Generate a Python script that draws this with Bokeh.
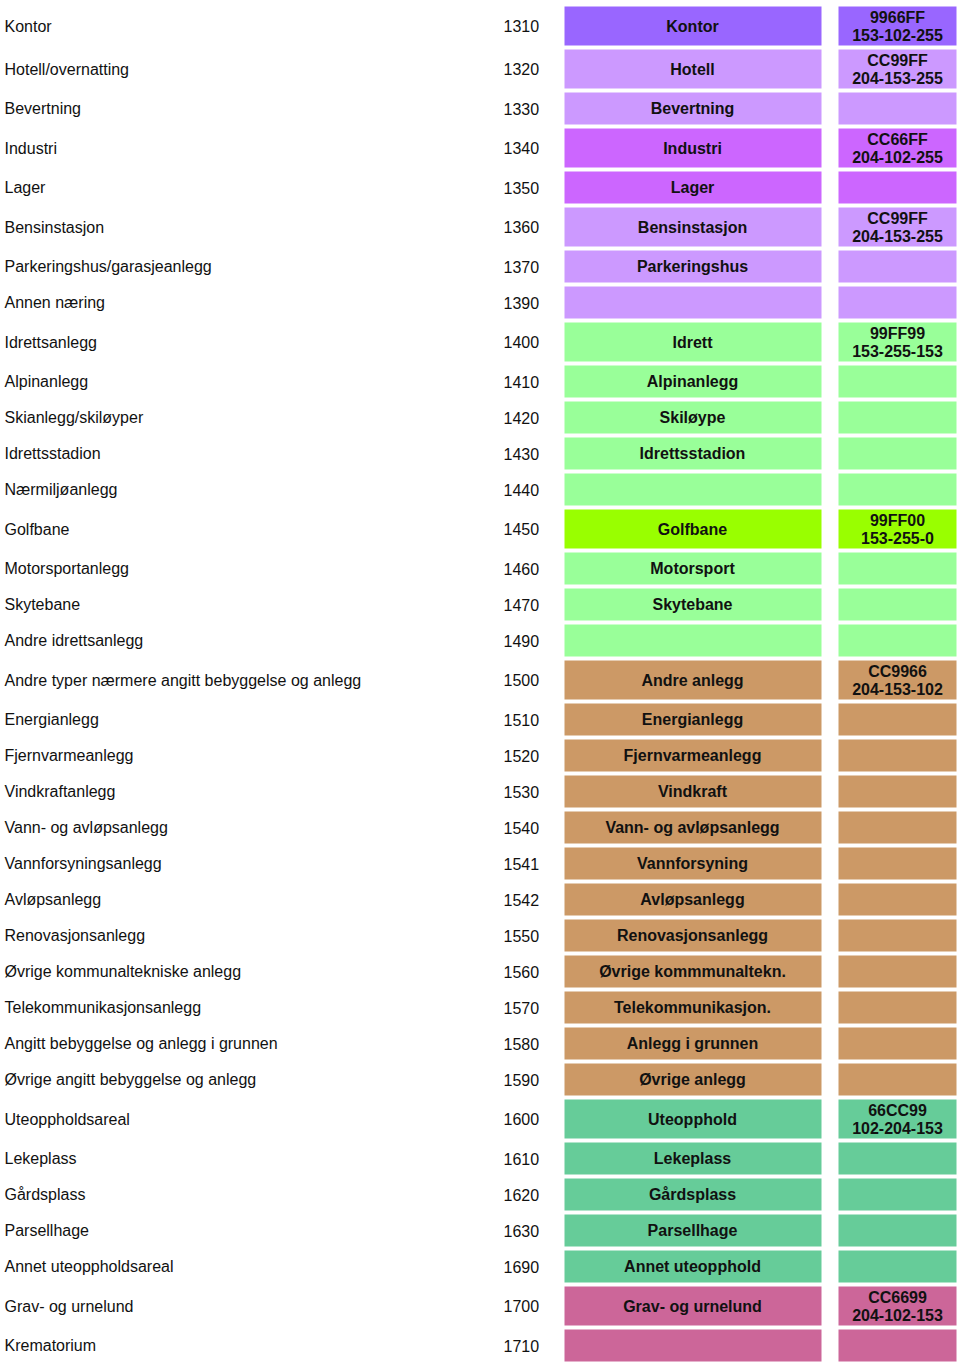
from bokeh.plotting import figure
from bokeh.models import ColumnDataSource, Range1d
from bokeh.core.properties import value
from bokeh.embed import file_html
from bokeh.resources import INLINE

names = ["Kontor", "Hotell/overnatting", "Bevertning", "Industri", "Lager", "Bensinstasjon",
         "Parkeringshus/garasjeanlegg", "Annen næring", "Idrettsanlegg", "Alpinanlegg",
         "Skianlegg/skiløyper", "Idrettsstadion", "Nærmiljøanlegg", "Golfbane", "Motorsportanlegg",
         "Skytebane", "Andre idrettsanlegg", "Andre typer nærmere angitt bebyggelse og anlegg",
         "Energianlegg", "Fjernvarmeanlegg", "Vindkraftanlegg", "Vann- og avløpsanlegg",
         "Vannforsyningsanlegg", "Avløpsanlegg", "Renovasjonsanlegg", "Øvrige kommunaltekniske anlegg",
         "Telekommunikasjonsanlegg", "Angitt bebyggelse og anlegg i grunnen",
         "Øvrige angitt bebyggelse og anlegg", "Uteoppholdsareal", "Lekeplass", "Gårdsplass",
         "Parsellhage", "Annet uteoppholdsareal", "Grav- og urnelund", "Krematorium"]
codes = ["1310", "1320", "1330", "1340", "1350", "1360", "1370", "1390", "1400", "1410", "1420",
         "1430", "1440", "1450", "1460", "1470", "1490", "1500", "1510", "1520", "1530", "1540",
         "1541", "1542", "1550", "1560", "1570", "1580", "1590", "1600", "1610", "1620", "1630",
         "1690", "1700", "1710"]
short_labels = ["Kontor", "Hotell", "Bevertning", "Industri", "Lager", "Bensinstasjon", "Parkeringshus",
                "", "Idrett", "Alpinanlegg", "Skiløype", "Idrettsstadion", "", "Golfbane", "Motorsport",
                "Skytebane", "", "Andre anlegg", "Energianlegg", "Fjernvarmeanlegg", "Vindkraft",
                "Vann- og avløpsanlegg", "Vannforsyning", "Avløpsanlegg", "Renovasjonsanlegg",
                "Øvrige kommmunaltekn.", "Telekommunikasjon.", "Anlegg i grunnen", "Øvrige anlegg",
                "Uteopphold", "Lekeplass", "Gårdsplass", "Parsellhage", "Annet uteopphold",
                "Grav- og urnelund", ""]
colors = ["#9966FF", "#CC99FF", "#CC99FF", "#CC66FF", "#CC66FF", "#CC99FF", "#CC99FF", "#CC99FF",
          "#99FF99", "#99FF99", "#99FF99", "#99FF99", "#99FF99", "#99FF00", "#99FF99", "#99FF99",
          "#99FF99", "#CC9966", "#CC9966", "#CC9966", "#CC9966", "#CC9966", "#CC9966", "#CC9966",
          "#CC9966", "#CC9966", "#CC9966", "#CC9966", "#CC9966", "#66CC99", "#66CC99", "#66CC99",
          "#66CC99", "#66CC99", "#CC6699", "#CC6699"]
hex_labels = ["9966FF", "CC99FF", "", "CC66FF", "", "CC99FF", "", "", "99FF99", "", "", "", "",
              "99FF00", "", "", "", "CC9966", "", "", "", "", "", "", "", "", "", "", "",
              "66CC99", "", "", "", "", "CC6699", ""]
rgb_labels = ["153-102-255", "204-153-255", "", "204-102-255", "", "204-153-255", "", "",
              "153-255-153", "", "", "", "", "153-255-0", "", "", "", "204-153-102", "", "", "",
              "", "", "", "", "", "", "", "", "102-204-153", "", "", "", "", "204-102-153", ""]

# layout (reference pixel units)
TOP = 6
TALL, SHORT, GAP = 39, 32, 4
tops, bottoms, mids = [], [], []
y = TOP
for h in hex_labels:
    hh = TALL if h else SHORT
    tops.append(y)
    bottoms.append(y + hh)
    mids.append(y + hh / 2)
    y += hh + GAP

src = ColumnDataSource(dict(name=names, code=codes, short=short_labels, color=colors,
                            hexl=hex_labels, rgb=rgb_labels, top=tops, bottom=bottoms, mid=mids))

p = figure(width=960, height=1362, output_backend="svg", toolbar_location=None,
           x_range=Range1d(0, 960), y_range=Range1d(1362, 0),
           min_border=0, min_border_left=0, min_border_right=0, min_border_top=0, min_border_bottom=0)
p.axis.visible = False
p.grid.visible = False
p.outline_line_color = None
p.background_fill_color = "white"
p.border_fill_color = "white"

p.quad(left=564, right=821, top="top", bottom="bottom", fill_color="color", line_color=None, source=src)
p.quad(left=838, right=956, top="top", bottom="bottom", fill_color="color", line_color=None, source=src)

font = value("Liberation Sans")
p.text(x=4, y="mid", text="name", source=src, text_font=font, text_font_size="16px",
       text_align="left", text_baseline="middle", text_color="#111111")
p.text(x=503, y="mid", text="code", source=src, text_font=font, text_font_size="16px",
       text_align="left", text_baseline="middle", text_color="#111111")
p.text(x=692, y="mid", text="short", source=src, text_font=font, text_font_size="16px",
       text_font_style="bold", text_align="center", text_baseline="middle", text_color="#111111")
p.text(x=897, y="mid", text="hexl", source=src, text_font=font, text_font_size="16px",
       text_font_style="bold", text_align="center", text_baseline="middle", text_color="#111111",
       y_offset=-9)
p.text(x=897, y="mid", text="rgb", source=src, text_font=font, text_font_size="16px",
       text_font_style="bold", text_align="center", text_baseline="middle", text_color="#111111",
       y_offset=9)

open("out.html", "w").write(file_html(p, INLINE))
